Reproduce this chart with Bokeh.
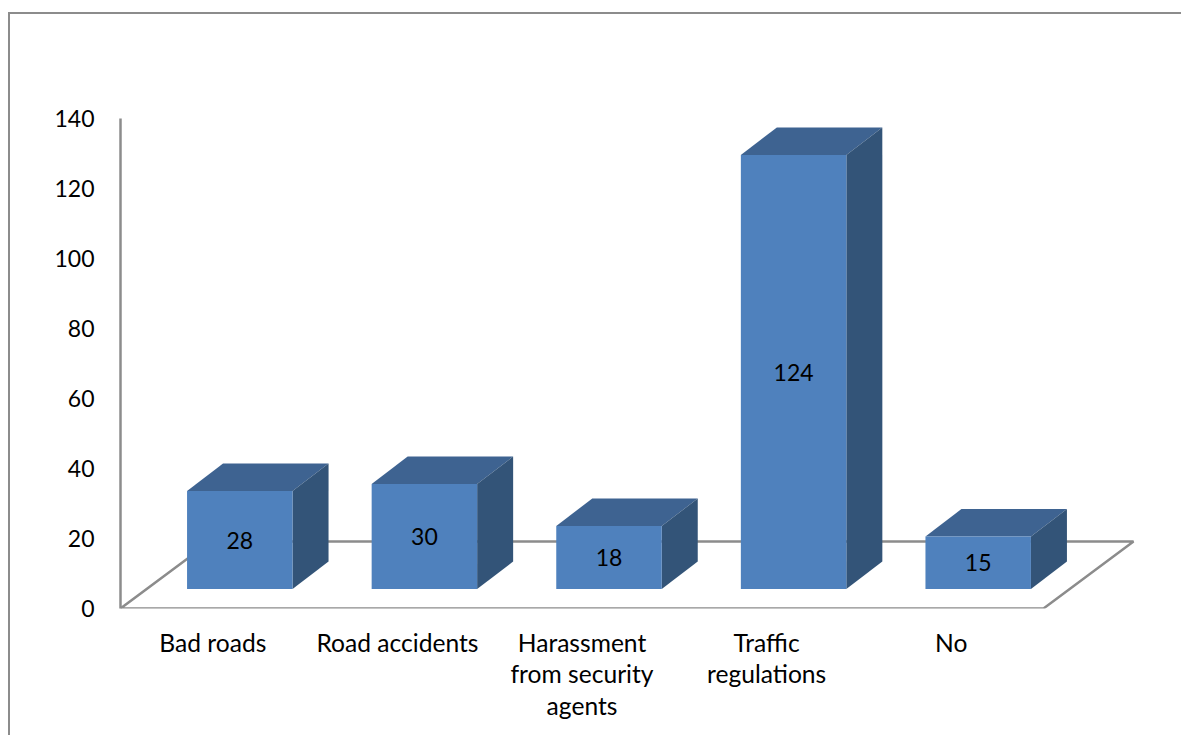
from bokeh.embed import file_html
from bokeh.resources import INLINE
from bokeh.plotting import figure
from bokeh.models import ColumnDataSource, FixedTicker, InlineStyleSheet, LinearAxis
from bokeh.core.properties import value

categories = ["Bad roads", "Road accidents", "Harassment\nfrom security\nagents", "Traffic\nregulations", "No"]
counts = [28, 30, 18, 124, 15]
y_ticks = [0, 20, 40, 60, 80, 100, 120, 140]

FONT = "Lato"
W, H = 1181, 735
LEFT, BASE = 120, 608
UNIT_X = 184.6          # pixels per category
UNIT_Y = 3.5            # pixels per count
GAP_SHARE = 1 / 1.75    # bar width as a share of the category
GREY = "#8c8c8c"

# oblique projection of the 3-D box, converted to data units
floor_dx, floor_dy = 90 / UNIT_X, 67 / UNIT_Y
depth_dx, depth_dy = 36 / UNIT_X, 27.5 / UNIT_Y
front_dx, front_dy = 27 / UNIT_X, 19.5 / UNIT_Y

x_end = (W - LEFT) / UNIT_X
y_end = BASE / UNIT_Y

# chart-area border: only its top and left edges fall on the page
border = InlineStyleSheet(css=f"""
:host {{ position: relative; }}
:host::after {{
  content: ""; position: absolute; left: 8px; top: 12px; right: 0; bottom: 0;
  border-left: 2px solid {GREY}; border-top: 2px solid {GREY};
  pointer-events: none;
}}
""")

p = figure(width=W, height=H, output_backend="svg", toolbar_location=None,
           x_range=(0, x_end), y_range=(0, y_end), x_axis_type=None, y_axis_type=None,
           min_border_left=LEFT, min_border_right=0, min_border_top=0,
           min_border_bottom=H - BASE, outline_line_color=None,
           stylesheets=[border])
p.grid.visible = False

y_axis = LinearAxis(bounds=(0, 140), ticker=FixedTicker(ticks=y_ticks),
                    axis_line_color=GREY, axis_line_width=2.5,
                    major_tick_line_color=None, minor_tick_line_color=None,
                    major_label_text_font=FONT, major_label_text_font_size="23px",
                    major_label_text_color="black", major_label_standoff=20)
p.add_layout(y_axis, "left")

positions = [i + 0.5 for i in range(len(categories))]
x_axis = LinearAxis(ticker=FixedTicker(ticks=positions),
                    major_label_overrides=dict(zip(positions, categories)),
                    axis_line_color=None,
                    major_tick_line_color=None, minor_tick_line_color=None,
                    major_label_text_font=FONT, major_label_text_font_size="24.6px",
                    major_label_text_color="black", major_label_standoff=13,
                    major_label_text_line_height=1.1)
p.add_layout(x_axis, "below")

# floor outline
n = len(categories)
p.line([0, n, n + floor_dx, floor_dx, 0], [0, 0, floor_dy, floor_dy, 0], line_color=GREY, line_width=2.5)

# the three visible faces of each box
half = GAP_SHARE / 2
fx0 = [c + front_dx - half for c in positions]
fx1 = [c + front_dx + half for c in positions]
fy0 = [front_dy] * n
fy1 = [front_dy + v for v in counts]

top_xs = [[a, b, b + depth_dx, a + depth_dx] for a, b in zip(fx0, fx1)]
top_ys = [[t, t, t + depth_dy, t + depth_dy] for t in fy1]
side_xs = [[b, b + depth_dx, b + depth_dx, b] for b in fx1]
side_ys = [[b, b + depth_dy, t + depth_dy, t] for b, t in zip(fy0, fy1)]

p.patches(top_xs, top_ys, fill_color="#3e6391", line_color=None)
p.patches(side_xs, side_ys, fill_color="#335478", line_color=None)
p.quad(left=fx0, right=fx1, bottom=fy0, top=fy1, fill_color="#4f81bd", line_color=None)

# value labels centred on the front face
labels = ColumnDataSource(dict(
    x=[(a + b) / 2 for a, b in zip(fx0, fx1)],
    y=[front_dy + v / 2 for v in counts],
    text=[str(v) for v in counts],
))
p.text("x", "y", "text", source=labels, text_font=value(FONT), text_font_size="23px",
       text_color="black", text_align="center", text_baseline="middle")

open("out.html", "w").write(file_html(p, INLINE))
